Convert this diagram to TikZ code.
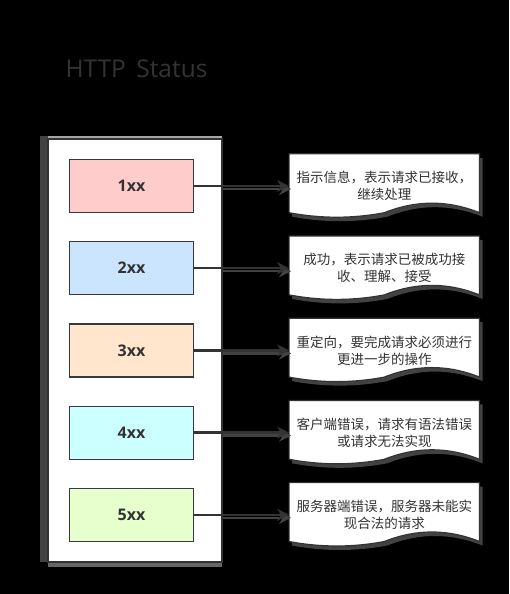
\documentclass[tikz,border=0pt]{standalone}
\usepackage{fontspec}
\setmainfont{Open Sans}
\newfontfamily\cjk{Noto Sans CJK SC}
\usepackage{tikz}
\usetikzlibrary{arrows.meta, positioning, backgrounds}
\definecolor{lineDark}{RGB}{51,51,51}
\definecolor{borderDark}{RGB}{54,57,61}
\definecolor{shadowGray}{RGB}{66,66,66}
\definecolor{colInfo}{RGB}{255,204,204}
\definecolor{colOk}{RGB}{204,229,255}
\definecolor{colRedir}{RGB}{255,230,204}
\definecolor{colClient}{RGB}{204,255,255}
\definecolor{colServer}{RGB}{230,255,204}
\pgfdeclarelayer{canvas}
\pgfsetlayers{canvas,background,main}

\begin{document}
\begin{tikzpicture}[x=1pt, y=-1pt,
  title/.style={font=\fontsize{24.5}{28}\selectfont, text=lineDark},
  panel/.style={rectangle, draw=lineDark, fill=white, line width=1.5pt,
                minimum width=174pt, minimum height=423pt},
  status/.style={rectangle, draw=borderDark, line width=1.2pt, text=lineDark,
                 font=\fontsize{16}{19}\selectfont\bfseries,
                 minimum width=124pt, minimum height=53pt},
  doc/.style={rectangle, align=center, text=lineDark,
              font=\cjk\fontsize{13.5}{17}\selectfont,
              minimum width=190pt, minimum height=64pt},
  docpath/.style={insert path={(#1.north west) -- (#1.north east)
      -- ([yshift=5.5pt]#1.south east)
      .. controls ([xshift=-31.7pt,yshift=18.2pt]#1.south east)
             and ([xshift=-63.3pt,yshift=18.2pt]#1.south east) .. ([yshift=5.5pt]#1.south)
      .. controls ([xshift=-31.7pt,yshift=-0.5pt]#1.south)
             and ([xshift=-63.3pt,yshift=-0.5pt]#1.south) .. ([yshift=5.5pt]#1.south west)
      -- cycle}},
  arr/.style={-{Stealth[length=12pt,width=12pt]}, line width=2.4pt, color=lineDark},
  arrshadow/.style={arr, color=shadowGray, transform canvas={shift={(2pt,-3pt)}}}
]
  \begin{pgfonlayer}{canvas}
    \fill[black] (0,0) rectangle (509,594);
  \end{pgfonlayer}
  \useasboundingbox (0,0) rectangle (509,594);

  \node[title, anchor=west] (title) at (62,69) {HTTP\, Status};

  \node[panel] (panel) at (135,350.5) {};

  \node[status, fill=colInfo] (s1) at (131.5,186) {1xx};
  \node[status, fill=colOk, below=28pt of s1] (s2) {2xx};
  \node[status, fill=colRedir, below=28pt of s2] (s3) {3xx};
  \node[status, fill=colClient, below=28pt of s3] (s4) {4xx};
  \node[status, fill=colServer, below=28pt of s4] (s5) {5xx};

  \node[doc, right=95pt of s1] (d1) {指示信息，表示请求已接收，\\继续处理};
  \node[doc, right=95pt of s2] (d2) {成功，表示请求已被成功接\\收、理解、接受};
  \node[doc, right=95pt of s3] (d3) {重定向，要完成请求必须进行\\更进一步的操作};
  \node[doc, right=95pt of s4] (d4) {客户端错误，请求有语法错误\\或请求无法实现};
  \node[doc, right=95pt of s5] (d5) {服务器端错误，服务器未能实\\现合法的请求};

  \begin{scope}[on background layer]
    % sombras del marco
    \fill[shadowGray] (40,136) rectangle (48,562);
    \fill[gray!70] (48,136) rectangle (222,139);
    \fill[gray!80!black] (48,562) rectangle (222,567);
    \foreach \d in {d1,d2,d3,d4,d5}{
      \path[fill=shadowGray, transform canvas={shift={(3pt,-4pt)}}, docpath=\d];
      \path[fill=white, draw=lineDark, line width=1.2pt, docpath=\d];
    }
    \foreach \i in {1,...,5}
      \draw[arrshadow] (s\i.east) -- (d\i.west);
  \end{scope}

  \draw[arr] (s1.east) -- (d1.west);
  \draw[arr] (s2.east) -- (d2.west);
  \draw[arr] (s3.east) -- (d3.west);
  \draw[arr] (s4.east) -- (d4.west);
  \draw[arr] (s5.east) -- (d5.west);
\end{tikzpicture}
\end{document}
